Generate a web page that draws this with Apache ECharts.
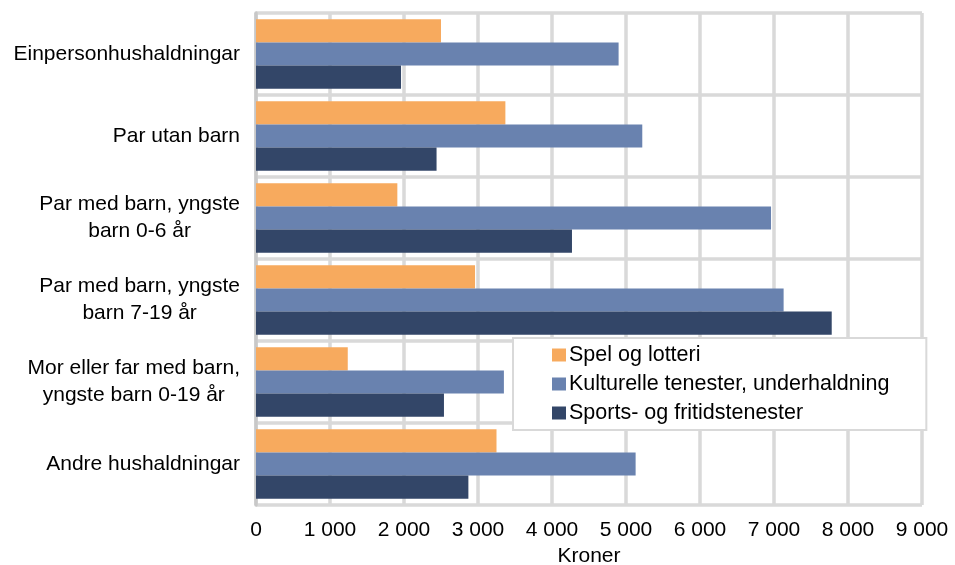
<!DOCTYPE html>
<html>
<head>
<meta charset="utf-8">
<script src="https://cdn.jsdelivr.net/npm/echarts@6/dist/echarts.min.js"></script>
<style>
html,body{margin:0;padding:0;background:#fff;}
#c{width:955px;height:565px;}
</style>
</head>
<body>
<div id="c"></div>
<script>
var categories = [
  "Einpersonhushaldningar",
  "Par utan barn",
  "Par med barn, yngste\nbarn 0-6 år",
  "Par med barn, yngste\nbarn 7-19 år",
  "Mor eller far med barn,\nyngste barn 0-19 år",
  "Andre hushaldningar"
];
var seriesNames = ["Spel og lotteri", "Kulturelle tenester, underhaldning", "Sports- og fritidstenester"];
var spel = [2500, 3370, 1910, 2960, 1240, 3250];
var kultur = [4900, 5220, 6960, 7130, 3350, 5130];
var sport = [1960, 2440, 4270, 7780, 2540, 2870];
var xTicks = [0, 1000, 2000, 3000, 4000, 5000, 6000, 7000, 8000, 9000];
var colors = ["#F7AA5E", "#6982AF", "#334668"];

var FONT = "'Liberation Sans', Arial, sans-serif";
var chart = echarts.init(document.getElementById('c'));
var data = [spel, kultur, sport];
chart.setOption({
  animation: false,
  textStyle: {fontFamily: FONT},
  grid: {left: 256, right: 33, top: 13, bottom: 60, show: false, containLabel: false, outerBoundsMode: 'none'},
  legend: {
    orient: 'vertical',
    left: 513, top: 338,
    padding: [6, 37, 6, 39],
    itemWidth: 14, itemHeight: 13, itemGap: 7,
    icon: 'rect',
    backgroundColor: '#fff',
    borderColor: '#d9d9d9', borderWidth: 2,
    textStyle: {fontSize: 21.5, color: '#000', fontFamily: FONT, padding: [0,0,0,-2]},
    data: seriesNames
  },
  xAxis: {
    type: 'value', min: xTicks[0], max: xTicks[xTicks.length-1], interval: 1000,
    name: 'Kroner', nameLocation: 'middle', nameGap: 39,
    nameTextStyle: {fontSize: 21, color: '#000', fontFamily: FONT},
    axisLine: {show: false}, axisTick: {show: false},
    axisLabel: {fontSize: 21, color: '#000', margin: 15, fontFamily: FONT,
      formatter: function(v){ return String(v).replace(/\B(?=(\d{3})+(?!\d))/g, ' '); }},
    splitLine: {show: true, lineStyle: {color: '#d9d9d9', width: 3.5}}
  },
  yAxis: {
    type: 'category', data: categories, inverse: true,
    axisLine: {show: true, lineStyle: {color: '#c8c8c8', width: 3.5}},
    axisTick: {show: false},
    splitLine: {show: true, lineStyle: {color: '#d9d9d9', width: 3.5}},
    axisLabel: {
      margin: 16, color: '#000', fontSize: 21, fontFamily: FONT, lineHeight: 27,
      formatter: function(v){ return v.split('\n').map(function(s){ return '{c|' + s + '}'; }).join('\n'); },
      rich: {c: {align: 'center', fontSize: 21, lineHeight: 27, color: '#000', fontFamily: FONT}}
    }
  },
  series: seriesNames.map(function(n, i){
    return {
      name: n, type: 'bar', data: data[i],
      barGap: '0%', barCategoryGap: '15%',
      itemStyle: {color: colors[i]}
    };
  })
});
</script>
</body>
</html>
